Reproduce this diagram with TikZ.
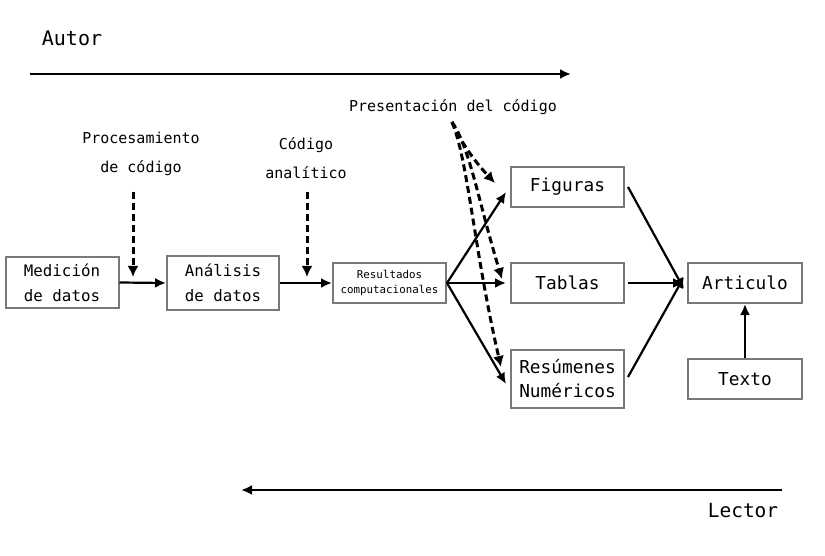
\documentclass[tikz,border=0pt]{standalone}
\usepackage{fontspec}
\setmainfont{DejaVu Sans Mono}
\usetikzlibrary{arrows.meta}
\begin{document}
\begin{tikzpicture}[x=1pt,y=-1pt,
  box/.style={draw=gray!95!black, line width=2pt, rectangle, inner sep=0pt, align=center},
  arr/.style={line width=2.2pt, -{Latex[length=11pt,width=10pt]}},
  darr/.style={line width=3pt, dash pattern=on 7pt off 4pt, -{Latex[length=11pt,width=11pt]}},
  lbl/.style={font=\fontsize{15}{29}\selectfont, align=center, inner sep=0pt},
  big/.style={font=\fontsize{17.8}{24}\selectfont},
  mid/.style={font=\fontsize{15.8}{25}\selectfont}]
\useasboundingbox (0,0) rectangle (825,556);
% boxes
\node[box, mid, minimum width=113pt, minimum height=50pt] (med) at (62,282.5) {Medición\\de datos};
\node[box, mid, minimum width=112pt, minimum height=54pt] (ana) at (223,283) {Análisis\\de datos};
\node[box, font=\fontsize{10.8}{15}\selectfont, minimum width=113pt, minimum height=40pt] (res) at (389.5,283) {Resultados\\computacionales};
\node[box, big, minimum width=113pt, minimum height=40pt] (fig) at (567.5,187) {Figuras};
\node[box, big, minimum width=113pt, minimum height=40pt] (tab) at (567.5,283) {Tablas};
\node[box, big, minimum width=113pt, minimum height=58pt] (rsm) at (567.5,379) {Resúmenes\\Numéricos};
\node[box, big, minimum width=114pt, minimum height=40pt] (art) at (745,283) {Articulo};
\node[box, big, minimum width=114pt, minimum height=40pt] (tex) at (745,379) {Texto};
% labels
\node[lbl, font=\fontsize{20}{24}\selectfont] (autor) at (72,38) {Autor};
\node[lbl, font=\fontsize{19.5}{24}\selectfont] (lector) at (743,511) {Lector};
\node[lbl] (proc) at (141,154) {Procesamiento\\de código};
\node[lbl] (cod) at (306,158) {Código\\analítico};
\node[lbl] (pres) at (453,107) {Presentación del código};
% coordinates
\coordinate (a1) at (30,74);
\coordinate (a2) at (571,74);
\coordinate (l1) at (782,490);
\coordinate (l2) at (241,490);
\coordinate (p0) at (133,192);
\coordinate (p1) at (133,277);
\coordinate (c0) at (307,192);
\coordinate (c1) at (307,277);
\coordinate (s0) at (452,122);
\coordinate (fin) at (495,183);
\coordinate (tin) at (502,279);
\coordinate (rin) at (501,367);
% arrows
\draw[arr] (a1) -- (a2);
\draw[arr] (l1) -- (l2);
\draw[arr] (med.east) -- (ana.west);
\draw[arr] (ana.east) -- (res.west);
\draw[arr] (res.east) -- ([xshift=-4pt]fig.west |- 0,192);
\draw[arr] (res.east) -- ([xshift=-4pt]tab.west);
\draw[arr] (res.east) -- ([xshift=-4pt]rsm.west |- 0,384);
\draw[arr] ([xshift=3pt]fig.east) -- ([xshift=-3pt,yshift=-6pt]art.west);
\draw[arr] ([xshift=3pt]tab.east) -- ([xshift=-3pt]art.west);
\draw[arr] ([xshift=3pt]rsm.east |- 0,377) -- ([xshift=-3pt,yshift=6pt]art.west);
\draw[arr] (tex.north) -- (art.south);
% dashed
\draw[darr] (p0) -- (p1);
\draw[darr] (c0) -- (c1);
\draw[darr] (s0) .. controls (462,145) and (478,165) .. (fin);
\draw[darr] (s0) .. controls (470,148) and (478,200) .. (tin);
\draw[darr] (s0) .. controls (468,160) and (474,250) .. (rin);
\end{tikzpicture}
\end{document}
